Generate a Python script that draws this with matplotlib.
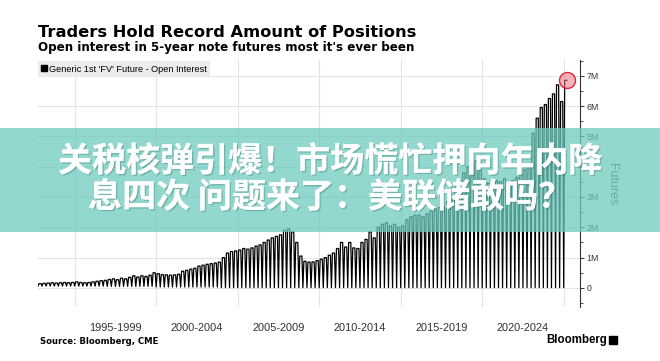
import numpy as np
import pandas as pd
import matplotlib
matplotlib.use("Agg")
import matplotlib.pyplot as plt
from matplotlib.patches import Rectangle
from matplotlib.lines import Line2D
import matplotlib.patheffects as pe

# Generic 1st 'FV' future open interest, millions of contracts.
# One peak per quarter, starting 1992Q4 and ending 2025Q1.
first_quarter = "1992Q4"
peak_oi = [
    0.14,                          # 1992
    0.15, 0.16, 0.17, 0.16,        # 1993
    0.17, 0.18, 0.17, 0.18,        # 1994
    0.20, 0.18, 0.17, 0.18,        # 1995
    0.20, 0.22, 0.24, 0.25,        # 1996
    0.28, 0.30, 0.27, 0.32,        # 1997
    0.30, 0.35, 0.40, 0.36,        # 1998
    0.40, 0.38, 0.42, 0.50,        # 1999
    0.47, 0.44, 0.43, 0.42,        # 2000
    0.43, 0.45, 0.55, 0.58,        # 2001
    0.62, 0.65, 0.72, 0.75,        # 2002
    0.78, 0.80, 0.82, 0.85,        # 2003
    1.00, 1.15, 1.20, 1.22,        # 2004
    1.25, 1.30, 1.28, 1.32,        # 2005
    1.38, 1.42, 1.50, 1.58,        # 2006
    1.65, 1.70, 1.75, 1.90,        # 2007
    1.95, 1.85, 1.50, 1.05,        # 2008
    0.88, 0.85, 0.86, 0.90,        # 2009
    0.95, 1.00, 1.08, 1.15,        # 2010
    1.30, 1.50, 1.35, 1.50,        # 2011
    1.32, 1.30, 1.50, 1.60,        # 2012
    1.85, 1.65, 2.00, 2.10,        # 2013
    2.15, 2.05, 2.10, 2.00,        # 2014
    2.05, 2.25, 2.35, 2.40,        # 2015
    2.40, 2.35, 2.45, 2.55,        # 2016
    2.60, 2.65, 2.70, 2.85,        # 2017
    3.00, 3.30, 3.55, 3.80,        # 2018
    4.00, 4.10, 4.20, 3.90,        # 2019
    3.60, 3.45, 3.50, 3.55,        # 2020
    3.50, 3.60, 3.50, 3.55,        # 2021
    3.65, 3.75, 3.90, 4.10,        # 2022
    5.10, 5.60, 5.95, 6.05,        # 2023
    6.25, 6.40, 6.70, 6.15,        # 2024
    6.85,                          # 2025
]
# open interest left right after each quarterly roll, by year 1992..2025
trough_years = list(range(1992, 2026))
trough_oi = [0.06, 0.06, 0.06, 0.06, 0.06, 0.05, 0.05, 0.05, 0.03, 0.03,
             0.03, 0.03, 0.01, 0.01, 0.01, 0.01, 0.01, 0.01, 0.01, 0.01,
             0.01, 0.01, 0.01, 0.01, 0.01, 0.01, 0.01, 0.01, 0.01, 0.01,
             0.01, 0.01, 0.01, 0.01]
last_obs = 2025.2   # last reading, mid-March 2025

period_labels = ["1995-1999", "2000-2004", "2005-2009",
                 "2010-2014", "2015-2019", "2020-2024"]
period_starts = [1995, 2000, 2005, 2010, 2015, 2020, 2025]
y_ticks = [0, 1, 2, 3, 4, 5, 6, 7]
# the 4M label sits under the headline banner and cannot be seen
y_tick_labels = ["0", "1M", "2M", "3M", "", "5M", "6M", "7M"]

title = "Traders Hold Record Amount of Positions"
subtitle = "Open interest in 5-year note futures most it's ever been"
legend_label = "Generic 1st 'FV' Future - Open Interest"
source = "Source: Bloomberg, CME"
banner_lines = ["关税核弹引爆！市场慌忙押向年内降", "息四次 问题来了：美联储敢吗？"]

# quarterly cycle: builds up after the roll, holds, collapses at next roll
quarters = pd.period_range(first_quarter, periods=len(peak_oi), freq="Q")
q_start = np.array([q.year + (q.quarter - 1) / 4 for q in quarters])
trough_map = dict(zip(trough_years, trough_oi))
xs, ys = [], []
for qs, q, pk in zip(q_start, quarters, peak_oi):
    xs += [qs, qs + 0.06, qs + 0.19]
    ys += [trough_map[q.year], pk, pk]
xs[-1] = last_obs

W, H = 660, 361
fig = plt.figure(figsize=(W / 100, H / 100), dpi=100)
fig.patch.set_facecolor("white")

ax = fig.add_axes([38 / W, 1 - 307 / H, (580 - 38) / W, (307 - 60) / H])
ax.set_xlim(1992.75, 2026.0)
ax.set_ylim(-0.63, 7.52)

ax.plot(xs, ys, color="black", lw=0.9, zorder=3)
ax.plot(xs[-1], ys[-1], "o", ms=11.5, mfc=(0.95, 0.45, 0.52, 0.55),
        mec="#d8283f", mew=1.0, zorder=4)

for s in ["top", "left", "bottom"]:
    ax.spines[s].set_visible(False)
ax.spines["right"].set_color("#333333")
ax.spines["right"].set_linewidth(0.8)

ax.yaxis.tick_right()
ax.set_yticks(y_ticks)
ax.set_yticklabels(y_tick_labels)
ax.set_yticks(np.arange(-0.5, 7.6, 0.5), minor=True)
ax.tick_params(axis="y", which="major", length=3, width=0.7, color="#333333",
               pad=1.5, labelsize=6.3, labelcolor="#333333")
ax.tick_params(axis="y", which="minor", length=2, width=0.6, color="#333333")
for lab in ax.get_yticklabels():
    lab.set_family("Liberation Sans")

ax.set_xticks(period_starts)
ax.set_xticklabels([""] * len(period_starts))
ax.set_xticks([s + 2.5 for s in period_starts[:-1]], minor=True)
ax.set_xticklabels(period_labels, minor=True)
ax.tick_params(axis="x", which="both", length=0, pad=11.5,
               labelsize=7.9, labelcolor="#333333")
for lab in ax.get_xticklabels(minor=True):
    lab.set_family("Liberation Sans")

ax.grid(axis="both", which="major", color="#e4e4e4", lw=0.8, zorder=0)
ax.set_axisbelow(True)

handle = Line2D([], [], marker="s", color="black", ls="none", ms=4)
leg = ax.legend([handle], [legend_label], loc="upper left",
                bbox_to_anchor=(-0.003, 1.0), frameon=True, fancybox=False,
                handlelength=0.6, handletextpad=0.3, borderpad=0.35,
                borderaxespad=0.15, prop={"family": "Liberation Sans", "size": 6.6})
leg.get_frame().set_facecolor("#ececec")
leg.get_frame().set_edgecolor("none")
leg.get_frame().set_alpha(1)

fig.text(38 / W, 1 - 37 / H, title, fontsize=11.7, fontweight="bold",
         family="DejaVu Sans", color="black", va="baseline")
fig.text(38 / W, 1 - 50.5 / H, subtitle, fontsize=8.6, fontweight="bold",
         family="DejaVu Sans", color="black", va="baseline")
fig.text(40 / W, 1 - 341 / H, source, fontsize=6.1, fontweight="bold",
         family="DejaVu Sans", color="black", va="center")
fig.text(546 / W, 1 - 340 / H, "Bloomberg", fontsize=8.3, fontweight="bold",
         family="Liberation Sans", color="black", va="center")
fig.add_artist(Rectangle((609 / W, 1 - 344 / H), 8 / W, 8 / H,
                         transform=fig.transFigure, color="black", zorder=3))
fig.text(612 / W, 1 - 184 / H, "Futures", rotation=270, fontsize=8.9,
         family="Liberation Sans", color="#555555", ha="center", va="center",
         zorder=1)

# translucent teal headline banner over the chart
fig.add_artist(Rectangle((0, 1 - 232 / H), 1, 104 / H, transform=fig.transFigure,
                         facecolor="#6fcbbf", edgecolor="none", alpha=0.75, zorder=5))
shadow = [pe.withSimplePatchShadow(offset=(1, -1), shadow_rgbFace="#2f6f68", alpha=0.35),
          pe.Normal()]
for line, yc in zip(banner_lines, [161, 197]):
    fig.text(330 / W, 1 - yc / H, line, fontsize=24.5, fontweight="bold",
             family=["Noto Sans CJK SC", "DejaVu Sans"], color="white",
             ha="center", va="center", zorder=6, path_effects=shadow)

fig.savefig("out.png", dpi=100)
